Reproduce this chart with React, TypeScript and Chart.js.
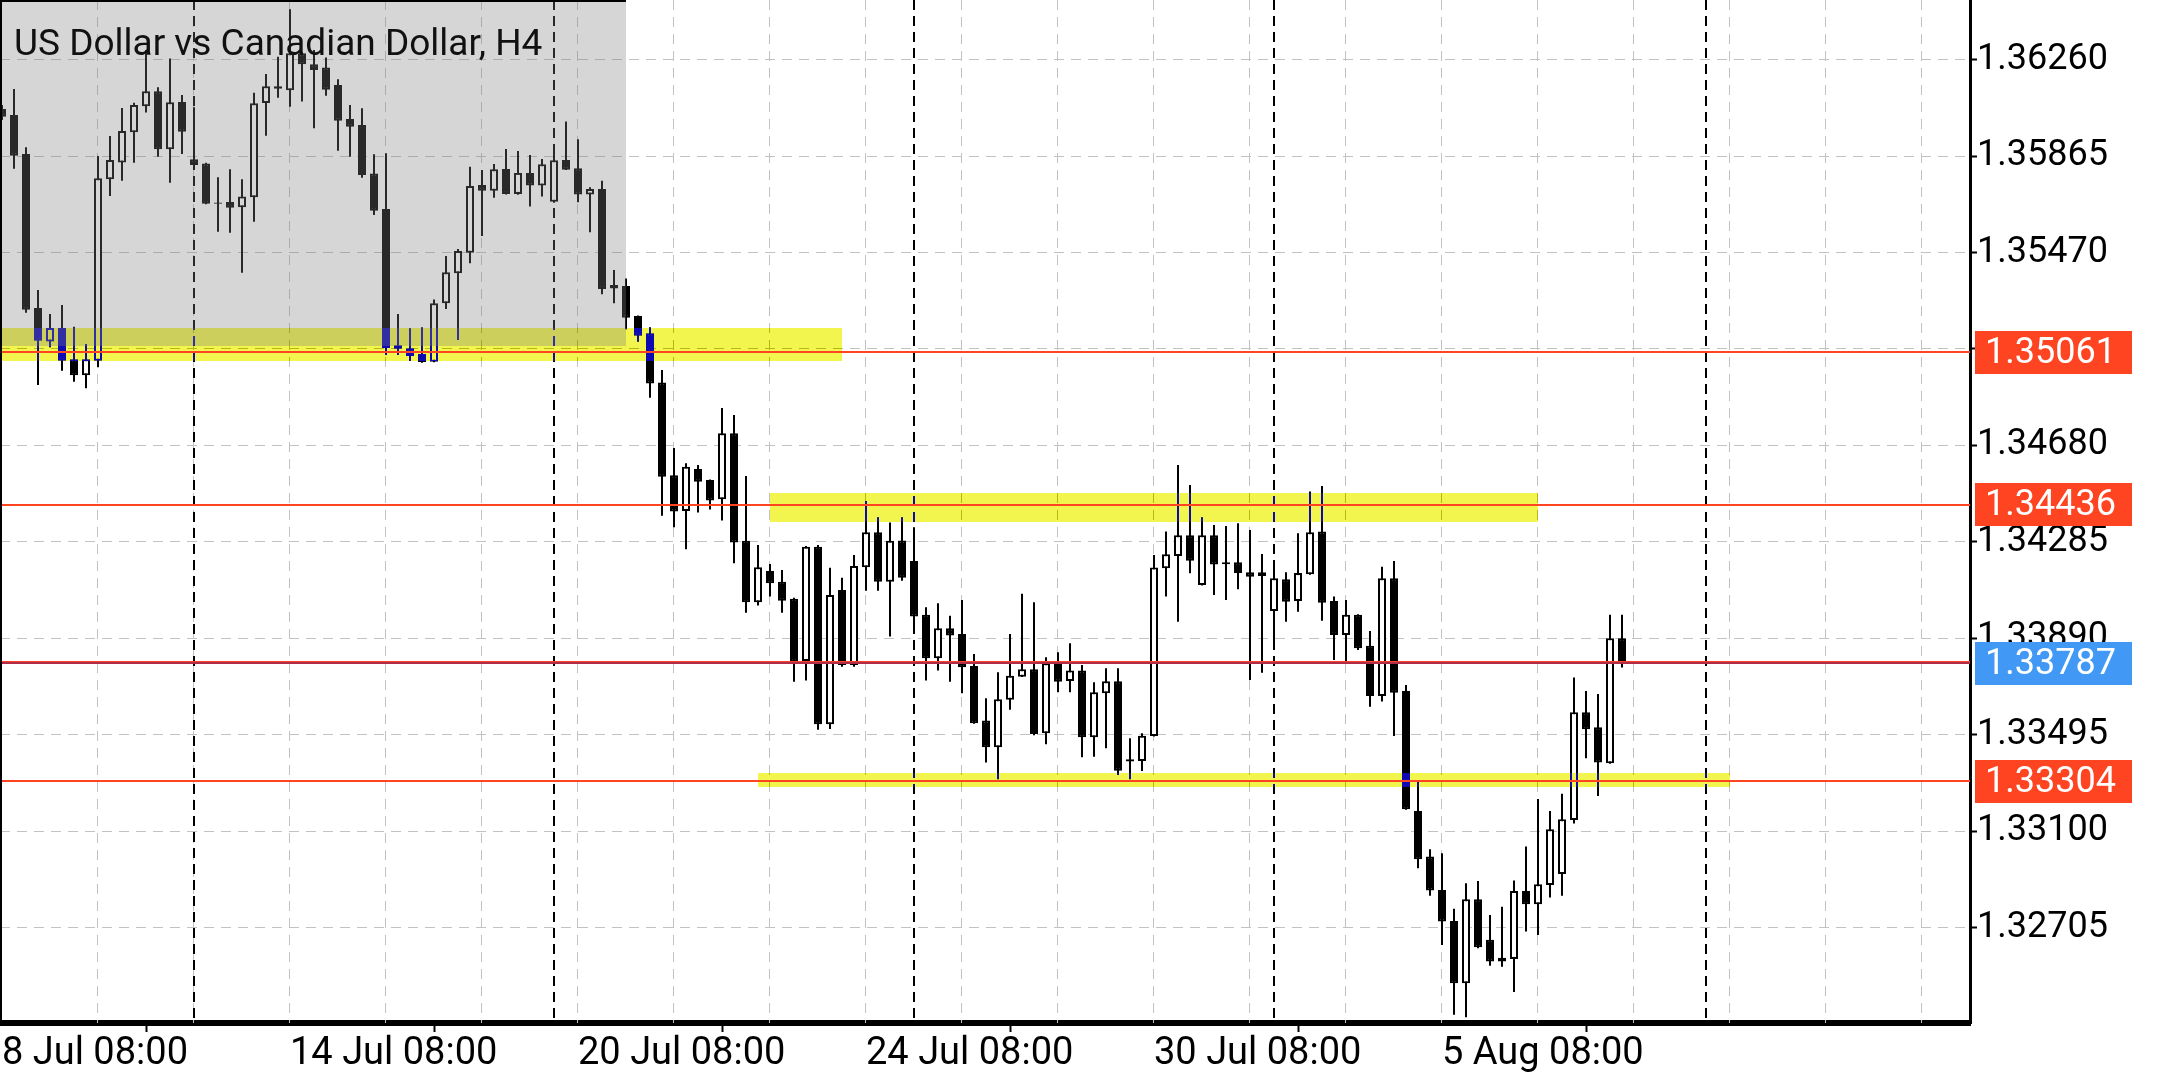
import React, { useEffect, useRef } from 'react';
import { Chart, registerables } from 'chart.js';

Chart.register(...registerables);

// ---------- data (USDCAD, H4) ----------
const OPEN = [
  1.36058, 1.36033, 1.35873, 1.35243, 1.35106, 1.35161, 1.35033, 1.34967, 1.35027, 1.35770,
  1.35839, 1.35962, 1.36069, 1.36130, 1.35893, 1.36086, 1.35852, 1.35835, 1.35675, 1.35677,
  1.35655, 1.35696, 1.36082, 1.36151, 1.36134, 1.36286, 1.36241, 1.36228, 1.36156, 1.36017,
  1.35992, 1.35794, 1.35648, 1.35090, 1.35078, 1.35054, 1.35023, 1.35262, 1.35385, 1.35469,
  1.35746, 1.35723, 1.35812, 1.35710, 1.35796, 1.35744, 1.35678, 1.35849, 1.35815, 1.35708,
  1.35730, 1.35337, 1.35333, 1.35210, 1.35139, 1.34938, 1.34558, 1.34411, 1.34583, 1.34538,
  1.34459, 1.34730, 1.34289, 1.34038, 1.34166, 1.34122, 1.34052, 1.33797, 1.34265, 1.33538,
  1.34088, 1.33781, 1.34181, 1.34324, 1.34122, 1.34291, 1.34207, 1.33986, 1.33808, 1.33931,
  1.33908, 1.33777, 1.33553, 1.33444, 1.33638, 1.33733, 1.33763, 1.33501, 1.33785, 1.33715,
  1.33758, 1.33485, 1.33665, 1.33714, 1.33395, 1.33388, 1.33490, 1.34177, 1.34227, 1.34312,
  1.34108, 1.34312, 1.34201, 1.34201, 1.34160, 1.34145, 1.34002, 1.34132, 1.34043, 1.34152,
  1.34327, 1.34043, 1.33904, 1.33986, 1.33859, 1.33654, 1.34136, 1.33674, 1.33183, 1.32996,
  1.32859, 1.32732, 1.32477, 1.32821, 1.32655, 1.32582, 1.32577, 1.32855, 1.32801, 1.32880,
  1.32925, 1.33146, 1.33587, 1.33526, 1.33378, 1.33890,
];

const HIGH = [
  1.36074, 1.36140, 1.35901, 1.35316, 1.35218, 1.35255, 1.35166, 1.35095, 1.35865, 1.35947,
  1.36062, 1.36083, 1.36299, 1.36147, 1.36265, 1.36115, 1.36065, 1.35838, 1.35778, 1.35811,
  1.35770, 1.36124, 1.36201, 1.36272, 1.36466, 1.36290, 1.36299, 1.36269, 1.36180, 1.36074,
  1.36061, 1.35872, 1.35876, 1.35218, 1.35160, 1.35164, 1.35278, 1.35456, 1.35484, 1.35821,
  1.35808, 1.35832, 1.35894, 1.35886, 1.35869, 1.35853, 1.35903, 1.36006, 1.35934, 1.35737,
  1.35764, 1.35398, 1.35364, 1.35212, 1.35164, 1.34989, 1.34669, 1.34607, 1.34600, 1.34540,
  1.34833, 1.34805, 1.34555, 1.34272, 1.34194, 1.34170, 1.34056, 1.34268, 1.34272, 1.34179,
  1.34138, 1.34231, 1.34452, 1.34386, 1.34364, 1.34386, 1.34345, 1.34017, 1.34034, 1.33982,
  1.34047, 1.33826, 1.33644, 1.33751, 1.33908, 1.34072, 1.34038, 1.33812, 1.33833, 1.33870,
  1.33781, 1.33710, 1.33767, 1.33767, 1.33481, 1.33501, 1.34231, 1.34327, 1.34600, 1.34518,
  1.34386, 1.34354, 1.34350, 1.34361, 1.34334, 1.34235, 1.34204, 1.34160, 1.34320, 1.34491,
  1.34514, 1.34061, 1.34047, 1.33988, 1.33920, 1.34183, 1.34207, 1.33699, 1.33303, 1.33026,
  1.33010, 1.32782, 1.32887, 1.32896, 1.32757, 1.32791, 1.32898, 1.33037, 1.33232, 1.33183,
  1.33253, 1.33729, 1.33674, 1.33662, 1.33986, 1.33986,
];

const LOW = [
  1.36013, 1.35813, 1.35223, 1.34927, 1.35082, 1.34986, 1.34941, 1.34914, 1.35000, 1.35701,
  1.35764, 1.35838, 1.36043, 1.35862, 1.35756, 1.35873, 1.35808, 1.35668, 1.35555, 1.35551,
  1.35387, 1.35596, 1.35948, 1.36104, 1.36067, 1.36088, 1.35979, 1.36112, 1.35887, 1.35862,
  1.35776, 1.35624, 1.35050, 1.35050, 1.35026, 1.35019, 1.35021, 1.35239, 1.35112, 1.35426,
  1.35538, 1.35694, 1.35708, 1.35707, 1.35658, 1.35699, 1.35674, 1.35808, 1.35676, 1.35553,
  1.35299, 1.35262, 1.35156, 1.35105, 1.34875, 1.34392, 1.34345, 1.34255, 1.34405, 1.34418,
  1.34372, 1.34197, 1.33995, 1.34024, 1.34061, 1.33995, 1.33712, 1.33717, 1.33515, 1.33519,
  1.33774, 1.33774, 1.34085, 1.34085, 1.33897, 1.34126, 1.33949, 1.33717, 1.33758, 1.33712,
  1.33665, 1.33540, 1.33381, 1.33313, 1.33597, 1.33731, 1.33493, 1.33456, 1.33669, 1.33669,
  1.33403, 1.33405, 1.33440, 1.33330, 1.33313, 1.33347, 1.33488, 1.34061, 1.33958, 1.34156,
  1.34106, 1.34067, 1.34047, 1.34091, 1.33719, 1.33749, 1.33842, 1.33958, 1.33999, 1.34150,
  1.33962, 1.33801, 1.33788, 1.33842, 1.33610, 1.33631, 1.33490, 1.33188, 1.32948, 1.32836,
  1.32634, 1.32348, 1.32338, 1.32621, 1.32549, 1.32545, 1.32441, 1.32689, 1.32675, 1.32828,
  1.32836, 1.33132, 1.33399, 1.33244, 1.33376, 1.33770,
];

const CLOSE = [
  1.36026, 1.35866, 1.35236, 1.35109, 1.35161, 1.35027, 1.34967, 1.35033, 1.35774, 1.35849,
  1.35968, 1.36074, 1.36130, 1.35893, 1.36085, 1.35965, 1.35828, 1.35670, 1.35670, 1.35653,
  1.35699, 1.36081, 1.36151, 1.36141, 1.36286, 1.36241, 1.36217, 1.36137, 1.36010, 1.35985,
  1.35787, 1.35641, 1.35079, 1.35076, 1.35046, 1.35022, 1.35262, 1.35389, 1.35476, 1.35742,
  1.35723, 1.35811, 1.35710, 1.35796, 1.35744, 1.35831, 1.35848, 1.35809, 1.35708, 1.35730,
  1.35321, 1.35323, 1.35203, 1.35129, 1.34934, 1.34552, 1.34409, 1.34593, 1.34531, 1.34454,
  1.34730, 1.34282, 1.34038, 1.34181, 1.34115, 1.34044, 1.33794, 1.34265, 1.33538, 1.34067,
  1.33781, 1.34186, 1.34324, 1.34122, 1.34290, 1.34138, 1.33979, 1.33808, 1.33931, 1.33901,
  1.33771, 1.33542, 1.33444, 1.33640, 1.33737, 1.33763, 1.33498, 1.33788, 1.33712, 1.33758,
  1.33485, 1.33669, 1.33714, 1.33348, 1.33385, 1.33491, 1.34180, 1.34234, 1.34312, 1.34208,
  1.34312, 1.34192, 1.34193, 1.34157, 1.34142, 1.34160, 1.34136, 1.34040, 1.34157, 1.34324,
  1.34036, 1.33904, 1.33986, 1.33849, 1.33654, 1.34136, 1.33667, 1.33190, 1.32985, 1.32857,
  1.32730, 1.32477, 1.32821, 1.32625, 1.32566, 1.32566, 1.32855, 1.32801, 1.32883, 1.33108,
  1.33149, 1.33587, 1.33518, 1.33381, 1.33890, 1.33787,
];

// time axis (bar index of labelled bars)
const LABEL_INDEX = [0, 24, 48, 72, 96, 120];
const LABEL_TEXT = ['8 Jul 08:00', '14 Jul 08:00', '20 Jul 08:00', '24 Jul 08:00', '30 Jul 08:00', '5 Aug 08:00'];
const X_GRID = [8, 16, 24, 32, 40, 48, 56, 64, 72, 80, 88, 96, 104, 112, 120, 128, 136, 144, 152, 160];
const SEPARATORS = [16, 46, 76, 106, 142];

// price axis
const Y_TICKS = [1.32705, 1.331, 1.33495, 1.3389, 1.34285, 1.3468, 1.35075, 1.3547, 1.35865, 1.3626];

// horizontal levels and bid
const LEVELS = [1.35061, 1.34436, 1.33304];
const BID = 1.33787;

// zones (bar index from/to, price high/low)
const ZONE_FROM = [-5, 64, 63];
const ZONE_TO = [70, 128, 144];
const ZONE_HIGH = [1.35161, 1.34486, 1.3334];
const ZONE_LOW = [1.35026, 1.34368, 1.33279];
const SHADE_FROM = -5;
const SHADE_TO = 52;
const SHADE_HIGH = 1.367;
const SHADE_LOW = 1.35087;

const TITLE = 'US Dollar vs Canadian Dollar, H4';

// axis ranges
const X_MIN = -1 / 6;
const X_MAX = 164;
const Y_MIN = 1.323145;
const Y_MAX = 1.365041;

const W = 2160;
const H = 1080;
const FONT = 'Roboto';
const RED = 'rgb(255,68,34)';
const BLUE = 'rgb(66,153,245)';

const bgPlugin = {
  id: 'bgWhite',
  beforeDraw(chart: any) {
    const { ctx } = chart;
    ctx.save();
    ctx.fillStyle = '#fff';
    ctx.fillRect(0, 0, chart.width, chart.height);
    ctx.restore();
  },
};

const gridPlugin = {
  id: 'mtGrid',
  beforeDatasetsDraw(chart: any) {
    const { ctx, chartArea: a, scales } = chart;
    const x = scales.x;
    const y = scales.y;
    ctx.save();
    ctx.beginPath();
    ctx.rect(a.left, a.top, a.right - a.left, a.bottom - a.top);
    ctx.clip();
    ctx.strokeStyle = '#c2c2c2';
    ctx.lineWidth = 1;
    ctx.setLineDash([10, 7]);
    ctx.beginPath();
    for (const v of X_GRID) {
      const px = Math.round(x.getPixelForValue(v)) - 0.5;
      ctx.moveTo(px, a.top);
      ctx.lineTo(px, a.bottom);
    }
    for (const v of Y_TICKS) {
      const py = Math.floor(y.getPixelForValue(v)) + 0.5;
      ctx.moveTo(a.left, py);
      ctx.lineTo(a.right, py);
    }
    ctx.stroke();
    ctx.strokeStyle = '#000';
    ctx.lineWidth = 2;
    ctx.setLineDash([10, 6]);
    ctx.beginPath();
    for (const v of SEPARATORS) {
      const px = Math.round(x.getPixelForValue(v));
      ctx.moveTo(px, a.top);
      ctx.lineTo(px, a.bottom);
    }
    ctx.stroke();
    ctx.restore();
  },
};

const overlayPlugin = {
  id: 'mtOverlay',
  afterDatasetsDraw(chart: any) {
    const { ctx, chartArea: a, scales } = chart;
    const x = scales.x;
    const y = scales.y;
    ctx.save();
    ctx.beginPath();
    ctx.rect(a.left, a.top, a.right - a.left, a.bottom - a.top);
    ctx.clip();
    ctx.globalCompositeOperation = 'difference';
    ctx.fillStyle = 'rgb(13,10,178)';
    for (let k = 0; k < ZONE_FROM.length; k++) {
      const x1 = Math.round(x.getPixelForValue(ZONE_FROM[k]));
      const x2 = Math.round(x.getPixelForValue(ZONE_TO[k]));
      const y1 = Math.round(y.getPixelForValue(ZONE_HIGH[k]));
      const y2 = Math.round(y.getPixelForValue(ZONE_LOW[k]));
      ctx.fillRect(x1, y1, x2 - x1, y2 - y1);
    }
    ctx.globalCompositeOperation = 'source-over';
    ctx.fillStyle = 'rgba(126,126,126,0.32)';
    {
      const x1 = Math.round(x.getPixelForValue(SHADE_FROM));
      const x2 = Math.round(x.getPixelForValue(SHADE_TO));
      const y1 = Math.round(y.getPixelForValue(SHADE_HIGH));
      const y2 = Math.round(y.getPixelForValue(SHADE_LOW));
      ctx.fillRect(x1, y1, x2 - x1, y2 - y1);
    }
    ctx.restore();
  },
  afterDraw(chart: any) {
    const { ctx, chartArea: a, scales } = chart;
    const x = scales.x;
    const y = scales.y;
    ctx.save();
    // level lines
    for (const p of LEVELS) {
      const py = Math.round(y.getPixelForValue(p));
      ctx.fillStyle = RED;
      ctx.fillRect(a.left, py - 1, a.right - a.left, 2);
    }
    const pb = Math.round(y.getPixelForValue(BID));
    ctx.fillStyle = 'rgb(175,45,75)';
    ctx.fillRect(a.left, pb - 1, a.right - a.left, 2);
    ctx.fillStyle = RED;
    ctx.fillRect(a.left, pb - 2, a.right - a.left, 1);

    // price boxes
    ctx.font = `36px ${FONT}`;
    ctx.textBaseline = 'middle';
    ctx.textAlign = 'left';
    const boxL = a.right + 5;
    const boxW = 157;
    const boxH = 43;
    const drawBox = (p: number, color: string) => {
      const py = y.getPixelForValue(p);
      const top = Math.round(py - boxH / 2);
      ctx.fillStyle = color;
      ctx.fillRect(boxL, top, boxW, boxH);
      ctx.fillStyle = '#fff';
      ctx.fillText(p.toFixed(5), boxL + 10, top + boxH / 2 + 1);
    };
    for (const p of LEVELS) drawBox(p, RED);
    drawBox(BID, BLUE);

    // frame: left border and top edge over shaded region
    ctx.fillStyle = '#000';
    ctx.fillRect(0, 0, 2, a.bottom);
    const sx2 = Math.round(x.getPixelForValue(SHADE_TO));
    ctx.fillRect(0, 0, sx2, 2);

    // title
    ctx.font = `37px ${FONT}`;
    ctx.textBaseline = 'alphabetic';
    ctx.fillStyle = '#111';
    ctx.fillText(TITLE, 14, 55);
    ctx.restore();
  },
};

export default function App() {
  const ref = useRef<HTMLCanvasElement | null>(null);

  useEffect(() => {
    document.body.style.margin = '0';
    const canvas = ref.current;
    if (!canvas) return;

    const wickData = LOW.map((l, i) => ({ x: i, y: [l, HIGH[i]] }));
    const bodyData = OPEN.map((o, i) => ({ x: i, y: [o, CLOSE[i]] }));
    const bodyColors = OPEN.map((o, i) => (CLOSE[i] >= o ? '#ffffff' : '#000000'));

    const chart = new Chart(canvas, {
      type: 'bar',
      data: {
        datasets: [
          {
            label: 'wick',
            data: wickData as any,
            backgroundColor: '#000000',
            borderWidth: 0,
            barThickness: 2,
            grouped: false,
            order: 1,
            inflateAmount: 0,
          } as any,
          {
            label: 'body',
            data: bodyData as any,
            backgroundColor: bodyColors,
            borderColor: '#000000',
            borderWidth: 2,
            borderSkipped: false,
            barThickness: 8,
            grouped: false,
            order: 0,
            inflateAmount: 0,
          } as any,
        ],
      },
      options: {
        responsive: false,
        animation: false,
        devicePixelRatio: 1,
        events: [],
        layout: { padding: 0 },
        plugins: {
          legend: { display: false },
          tooltip: { enabled: false },
          title: { display: false },
        },
        scales: {
          x: {
            type: 'linear',
            position: 'bottom',
            min: X_MIN,
            max: X_MAX,
            offset: false,
            afterBuildTicks: (s: any) => {
              s.ticks = LABEL_INDEX.map((v) => ({ value: v }));
            },
            afterFit: (s: any) => {
              s.height = 57;
              s.paddingLeft = 0;
              s.paddingRight = 0;
            },
            ticks: {
              autoSkip: false,
              maxRotation: 0,
              minRotation: 0,
              align: 'start',
              padding: 0,
              color: '#000',
              font: { family: FONT, size: 38 },
              callback: (v: any) => {
                const k = LABEL_INDEX.indexOf(Number(v));
                return k >= 0 ? LABEL_TEXT[k] : '';
              },
            },
            grid: {
              display: true,
              drawOnChartArea: false,
              drawTicks: true,
              tickLength: 9,
              tickWidth: 2,
              tickColor: '#000',
            },
            border: { display: true, color: '#000', width: 6 },
          } as any,
          y: {
            type: 'linear',
            position: 'right',
            min: Y_MIN,
            max: Y_MAX,
            beginAtZero: false,
            afterBuildTicks: (s: any) => {
              s.ticks = Y_TICKS.map((v) => ({ value: v }));
            },
            afterFit: (s: any) => {
              s.width = 190;
              s.paddingTop = 0;
              s.paddingBottom = 0;
            },
            ticks: {
              autoSkip: false,
              padding: 0,
              color: '#000',
              font: { family: FONT, size: 36 },
              callback: (v: any) => Number(v).toFixed(5),
            },
            grid: {
              display: true,
              drawOnChartArea: false,
              drawTicks: true,
              tickLength: 7,
              tickWidth: 2,
              tickColor: '#000',
            },
            border: { display: true, color: '#000', width: 3 },
          } as any,
        },
      },
      plugins: [bgPlugin, gridPlugin, overlayPlugin],
    });

    return () => chart.destroy();
  }, []);

  return (
    <div style={{ position: 'fixed', left: 0, top: 0, width: W, height: H, background: '#fff' }}>
      <canvas ref={ref} width={W} height={H} style={{ display: 'block', width: W, height: H }} />
    </div>
  );
}
